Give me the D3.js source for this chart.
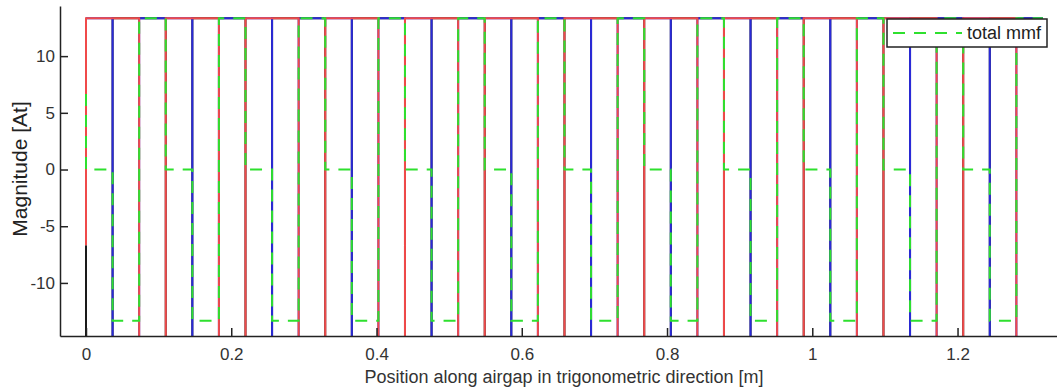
<!DOCTYPE html>
<html>
<head>
<meta charset="utf-8">
<script src="https://cdn.jsdelivr.net/npm/d3@7"></script>
<style>
  html, body { margin: 0; padding: 0; background: #fff; }
  svg { display: block; font-family: "Liberation Sans", Arial, sans-serif; }
  .axis path, .axis line { stroke: #222; stroke-width: 1.5; }
  .axis text { fill: #333; font-size: 17px; }
</style>
</head>
<body>
<div id="chart"></div>
<script>
// slot boundaries along the airgap [m]
const slotEdges = [0, 0.0366, 0.0732, 0.1098, 0.1464, 0.183, 0.2196, 0.2562, 0.2928, 0.3294,
  0.366, 0.4026, 0.4392, 0.4758, 0.5124, 0.549, 0.5856, 0.6222, 0.6588, 0.6954,
  0.732, 0.7686, 0.8052, 0.8418, 0.8784, 0.915, 0.9516, 0.9882, 1.0248, 1.0614,
  1.098, 1.1346, 1.1712, 1.2078, 1.2444, 1.281, 1.3176];

// value at x = 0, then one value per slot interval [At]
const phaseAStart = -6.67;
const phaseA = [13.33, 13.33, -26.67, 13.33, 13.33, -26.67, 13.33, 13.33, -26.67, 13.33, 13.33, -26.67,
  13.33, 13.33, -26.67, 13.33, 13.33, -26.67, 13.33, 13.33, -26.67, 13.33, 13.33, -26.67,
  13.33, 13.33, -26.67, 13.33, 13.33, -26.67, 13.33, 13.33, -26.67, 13.33, 13.33, -26.67];
const phaseBStart = 13.33;
const phaseB = [13.33, -26.67, 13.33, 13.33, -26.67, 13.33, 13.33, -26.67, 13.33, 13.33, -26.67, 13.33,
  13.33, -26.67, 13.33, 13.33, -26.67, 13.33, 13.33, -26.67, 13.33, 13.33, -26.67, 13.33,
  13.33, -26.67, 13.33, 13.33, -26.67, 13.33, 13.33, -26.67, 13.33, 13.33, -26.67, 13.33];
const phaseCStart = -6.67;
const phaseC = [-26.67, 13.33, 13.33, -26.67, 13.33, 13.33, -26.67, 13.33, 13.33, -26.67, 13.33, 13.33,
  -26.67, 13.33, 13.33, -26.67, 13.33, 13.33, -26.67, 13.33, 13.33, -26.67, 13.33, 13.33,
  -26.67, 13.33, 13.33, -26.67, 13.33, 13.33, -26.67, 13.33, 13.33, -26.67, 13.33, 13.33];
const totalStart = 6.67;
const totalMmf = [0, -13.33, 13.33, 0, -13.33, 13.33, 0, -13.33, 13.33, 0, -13.33, 13.33,
  0, -13.33, 13.33, 0, -13.33, 13.33, 0, -13.33, 13.33, 0, -13.33, 13.33,
  0, -13.33, 13.33, 0, -13.33, 13.33, 0, -13.33, 13.33, 0, -13.33, 13.33];

const xTicks = [0, 0.2, 0.4, 0.6, 0.8, 1, 1.2];
const yTicks = [-10, -5, 0, 5, 10];

const width = 1057, height = 391;
const plot = {left: 60, top: 6, right: 1059, bottom: 336};

const svg = d3.select("#chart").append("svg")
  .attr("width", width)
  .attr("height", height);

const x = d3.scaleLinear().domain([-0.0358, 1.3397]).range([plot.left, plot.right]);
const y = d3.scaleLinear().domain([-14.68, 14.42]).range([plot.bottom, plot.top]);

svg.append("clipPath").attr("id", "clip")
  .append("rect")
  .attr("x", plot.left).attr("y", plot.top)
  .attr("width", plot.right - plot.left).attr("height", plot.bottom - plot.top);

// turn start value + interval values into a step path
function steps(start, vals) {
  let pts = [[slotEdges[0], start]];
  vals.forEach((v, i) => {
    pts.push([slotEdges[i], v]);
    pts.push([slotEdges[i + 1], v]);
  });
  return pts;
}

const line = d3.line().x(d => x(d[0])).y(d => y(d[1]));

const series = [
  {vals: steps(phaseCStart, phaseC), color: "#1a1a1a", dash: null},
  {vals: steps(phaseBStart, phaseB), color: "#2a2ad8", dash: null},
  {vals: steps(phaseAStart, phaseA), color: "#f04a4a", dash: null},
  {vals: steps(totalStart, totalMmf), color: "#2ee02e", dash: "12,9"}
];

const g = svg.append("g").attr("clip-path", "url(#clip)");
series.forEach(s => {
  g.append("path")
    .attr("d", line(s.vals))
    .attr("fill", "none")
    .attr("stroke", s.color)
    .attr("stroke-width", 2)
    .attr("stroke-dasharray", s.dash);
});

// axes, ticks inside like matlab
svg.append("g")
  .attr("class", "axis")
  .attr("transform", "translate(" + plot.left + ",0)")
  .call(d3.axisLeft(y).tickValues(yTicks).tickSizeInner(-8).tickSizeOuter(0).tickPadding(5).tickFormat(d3.format("d")))
  .call(a => a.selectAll("text").text(d => d < 0 ? "-" + Math.abs(d) : d));

svg.append("g")
  .attr("class", "axis")
  .attr("transform", "translate(0," + plot.bottom + ")")
  .call(d3.axisBottom(x).tickValues(xTicks).tickSizeInner(-8).tickSizeOuter(0).tickPadding(12).tickFormat(d => d));

svg.selectAll(".axis .domain").attr("stroke", "#222");

// axis labels
svg.append("text")
  .attr("transform", "translate(27,169) rotate(-90)")
  .attr("text-anchor", "middle")
  .attr("fill", "#222")
  .style("font-size", "21px")
  .text("Magnitude [At]");

svg.append("text")
  .attr("x", 564)
  .attr("y", 383)
  .attr("text-anchor", "middle")
  .attr("fill", "#333")
  .style("font-size", "18px")
  .text("Position along airgap in trigonometric direction [m]");

// legend
const lg = svg.append("g").attr("transform", "translate(887,19)");
lg.append("rect")
  .attr("width", 160).attr("height", 28)
  .attr("fill", "#fff").attr("stroke", "#222").attr("stroke-width", 1.5);
lg.append("line")
  .attr("x1", 6).attr("x2", 75).attr("y1", 14).attr("y2", 14)
  .attr("stroke", "#2ee02e").attr("stroke-width", 2).attr("stroke-dasharray", "12,9");
lg.append("text")
  .attr("x", 80).attr("y", 20)
  .attr("fill", "#222")
  .style("font-size", "18px")
  .text("total mmf");
</script>
</body>
</html>
